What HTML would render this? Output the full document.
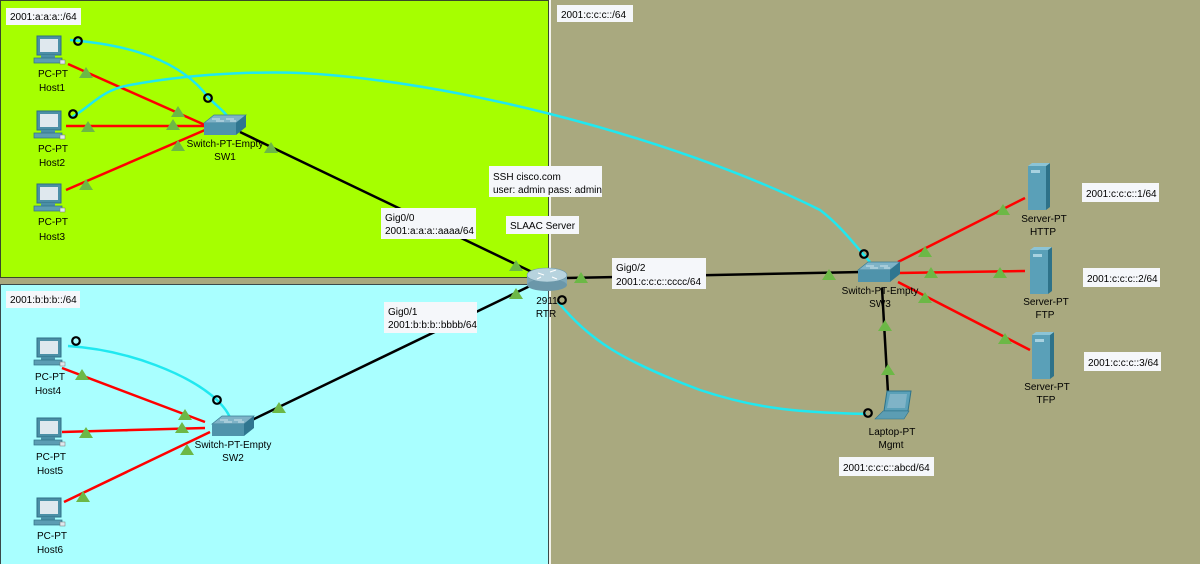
<!DOCTYPE html>
<html><head><meta charset="utf-8"><style>
html,body{margin:0;padding:0;width:1200px;height:564px;overflow:hidden;background:#a9a97f;}
svg text{font-family:"Liberation Sans",sans-serif;font-size:10px;fill:#000;}
</style></head><body>
<svg width="1200" height="564" viewBox="0 0 1200 564" xmlns="http://www.w3.org/2000/svg">
<defs>
<g id="pc">
  <rect x="-13" y="-14" width="24" height="19" fill="#4b8fa6" stroke="#2f6f85"/>
  <rect x="-10" y="-11" width="18" height="13" fill="#dfe8ee"/>
  <rect x="-9" y="5" width="14" height="3" fill="#4b8fa6"/>
  <rect x="-16" y="8" width="28" height="5" fill="#5c9db3" stroke="#2f6f85" stroke-width="0.7"/>
  <rect x="10" y="10" width="5" height="4" fill="#dfe8ee" stroke="#777" stroke-width="0.5"/>
</g>
<g id="sw">
  <polygon points="-20,-4 -10,-12 22,-12 12,-4" fill="#7fb3c7" stroke="#3a7d95" stroke-width="0.7"/>
  <rect x="-20" y="-4" width="32" height="12" fill="#4f93ab"/>
  <polygon points="12,-4 22,-12 22,0 12,8" fill="#2f7690"/>
  <path d="M-12,-8 h8 M2,-8 h8 M-8,-6 h8 M6,-6 h6" stroke="#e8f4f8" stroke-width="0.8"/>
</g>
<g id="srv">
  <rect x="-10" y="-22" width="18" height="44" fill="#5aa0b8"/>
  <polygon points="8,-22 12,-25 12,19 8,22" fill="#2e7289"/>
  <polygon points="-10,-22 -6,-25 12,-25 8,-22" fill="#8cc4d6"/>
  <rect x="-7" y="-18" width="9" height="3" fill="#a8d2e0"/>
</g>
<g id="tri"><polygon points="0,-6 7,5 -7,5" fill="#6cb846"/></g>
<g id="ring"><circle r="3.8" fill="none" stroke="#000" stroke-width="2.2"/></g>
</defs>

<rect x="0.5" y="0.5" width="548" height="277" fill="#a6ff00" stroke="#3a4a2a" stroke-width="1"/>
<rect x="0.5" y="284.5" width="548" height="282" fill="#a9ffff" stroke="#3a4a4a" stroke-width="1"/>
<rect x="549" y="0" width="2" height="564" fill="#f2f2ec"/>

<g fill="none" stroke-width="2.5">
<path d="M68,64 L205,125 M66,126 L205,126 M66,190 L205,130" stroke="#f00"/>
<path d="M62,368 L205,422 M62,432 L205,428 M64,502 L210,432" stroke="#f00"/>
<path d="M898,262 L1025,198 M898,273 L1025,271 M898,282 L1030,350" stroke="#f00"/>
<path d="M240,132 L532,272 M252,420 L532,285 M566,278 L862,272 M882,288 L888,393" stroke="#000"/>
<path d="M70,40 C130,45 180,60 208,97 C215,105 226,112 228,118" stroke="#20e8f0"/>
<path d="M70,118 C90,108 100,90 130,85 C200,72 280,70 330,75 C500,90 700,150 820,210 C840,225 855,245 870,262" stroke="#20e8f0"/>
<path d="M68,346 C130,350 190,375 217,400 C223,406 228,412 230,418" stroke="#20e8f0"/>
<path d="M558,302 C590,340 620,360 700,390 C760,410 800,412 866,414" stroke="#20e8f0"/>
</g>

<g>
<rect x="6" y="8" width="75" height="17" fill="#f5f7fa"/><text x="10" y="20">2001:a:a:a::/64</text>
<rect x="6" y="291" width="74" height="17" fill="#f5f7fa"/><text x="10" y="303">2001:b:b:b::/64</text>
<rect x="557" y="5" width="76" height="17" fill="#f5f7fa"/><text x="561" y="18">2001:c:c:c::/64</text>
<rect x="489" y="166" width="113" height="31" fill="#f5f7fa"/><text x="493" y="180">SSH cisco.com</text><text x="493" y="193">user: admin pass: admin</text>
<rect x="506" y="216" width="73" height="18" fill="#f5f7fa"/><text x="510" y="229">SLAAC Server</text>
<rect x="381" y="208" width="95" height="31" fill="#f5f7fa"/><text x="385" y="221">Gig0/0</text><text x="385" y="234">2001:a:a:a::aaaa/64</text>
<rect x="384" y="302" width="93" height="31" fill="#f5f7fa"/><text x="388" y="315">Gig0/1</text><text x="388" y="328">2001:b:b:b::bbbb/64</text>
<rect x="612" y="258" width="94" height="31" fill="#f5f7fa"/><text x="616" y="271">Gig0/2</text><text x="616" y="285">2001:c:c:c::cccc/64</text>
<rect x="1082" y="183" width="77" height="19" fill="#f5f7fa"/><text x="1086" y="197">2001:c:c:c::1/64</text>
<rect x="1083" y="268" width="77" height="19" fill="#f5f7fa"/><text x="1087" y="282">2001:c:c:c::2/64</text>
<rect x="1084" y="352" width="77" height="19" fill="#f5f7fa"/><text x="1088" y="366">2001:c:c:c::3/64</text>
<rect x="839" y="457" width="95" height="19" fill="#f5f7fa"/><text x="843" y="471">2001:c:c:c::abcd/64</text>
</g>

<use href="#ring" x="78" y="41"/><use href="#ring" x="208" y="98"/><use href="#ring" x="73" y="114"/>
<use href="#ring" x="76" y="341"/><use href="#ring" x="217" y="400"/>
<use href="#ring" x="562" y="300"/><use href="#ring" x="864" y="254"/><use href="#ring" x="868" y="413"/>

<use href="#tri" x="86" y="73"/><use href="#tri" x="178" y="112"/><use href="#tri" x="88" y="127"/><use href="#tri" x="173" y="125"/>
<use href="#tri" x="86" y="185"/><use href="#tri" x="178" y="146"/><use href="#tri" x="271" y="148"/>
<use href="#tri" x="82" y="375"/><use href="#tri" x="185" y="415"/><use href="#tri" x="86" y="433"/><use href="#tri" x="182" y="428"/>
<use href="#tri" x="83" y="497"/><use href="#tri" x="187" y="450"/><use href="#tri" x="279" y="408"/>
<use href="#tri" x="516" y="266"/><use href="#tri" x="516" y="294"/><use href="#tri" x="581" y="278"/>
<use href="#tri" x="829" y="275"/><use href="#tri" x="925" y="252"/><use href="#tri" x="931" y="273"/><use href="#tri" x="925" y="298"/>
<use href="#tri" x="1003" y="210"/><use href="#tri" x="1000" y="273"/><use href="#tri" x="1005" y="339"/>
<use href="#tri" x="885" y="326"/><use href="#tri" x="888" y="370"/>

<use href="#pc" x="50" y="50"/><use href="#pc" x="50" y="125"/><use href="#pc" x="50" y="198"/>
<use href="#pc" x="50" y="352"/><use href="#pc" x="50" y="432"/><use href="#pc" x="50" y="512"/>
<use href="#sw" x="224" y="127"/><use href="#sw" x="232" y="428"/><use href="#sw" x="878" y="274"/>
<use href="#srv" x="1038" y="188"/><use href="#srv" x="1040" y="272"/><use href="#srv" x="1042" y="357"/>
<g transform="translate(547,279)">
<rect x="-20" y="-4" width="40" height="10" fill="#7fa8b8"/>
<ellipse cx="0" cy="6" rx="20" ry="6" fill="#6b97a9"/>
<ellipse cx="0" cy="-4" rx="20" ry="7" fill="#b7d3de" stroke="#6b97a9" stroke-width="0.6"/>
<path d="M-9,-6 l6,2 M3,-7 l6,-2 M-6,-2 l-4,2 M5,-2 l5,2" stroke="#fff" stroke-width="1"/>
</g>
<g transform="translate(895,405)">
<polygon points="-8,-14 16,-14 13,6 -11,6" fill="#5aa0b8" stroke="#2e7289"/>
<polygon points="-5,-11 12,-11 10,3 -8,3" fill="#7fb3c7"/>
<polygon points="-12,6 14,6 9,14 -20,14" fill="#5c9db3" stroke="#2e7289" stroke-width="0.6"/>
</g>

<g text-anchor="middle">
<text x="53" y="77">PC-PT</text><text x="52" y="91">Host1</text>
<text x="53" y="152">PC-PT</text><text x="52" y="166">Host2</text>
<text x="53" y="225">PC-PT</text><text x="52" y="240">Host3</text>
<text x="50" y="380">PC-PT</text><text x="48" y="394">Host4</text>
<text x="51" y="460">PC-PT</text><text x="50" y="474">Host5</text>
<text x="52" y="539">PC-PT</text><text x="50" y="553">Host6</text>
<text x="225" y="147">Switch-PT-Empty</text><text x="225" y="160">SW1</text>
<text x="233" y="448">Switch-PT-Empty</text><text x="233" y="461">SW2</text>
<text x="880" y="294">Switch-PT-Empty</text><text x="880" y="307">SW3</text>
<text x="547" y="304">2911</text><text x="546" y="317">RTR</text>
<text x="1044" y="222">Server-PT</text><text x="1043" y="235">HTTP</text>
<text x="1046" y="305">Server-PT</text><text x="1045" y="318">FTP</text>
<text x="1047" y="390">Server-PT</text><text x="1046" y="403">TFP</text>
<text x="892" y="435">Laptop-PT</text><text x="891" y="448">Mgmt</text>
</g>
</svg>
</body></html>
